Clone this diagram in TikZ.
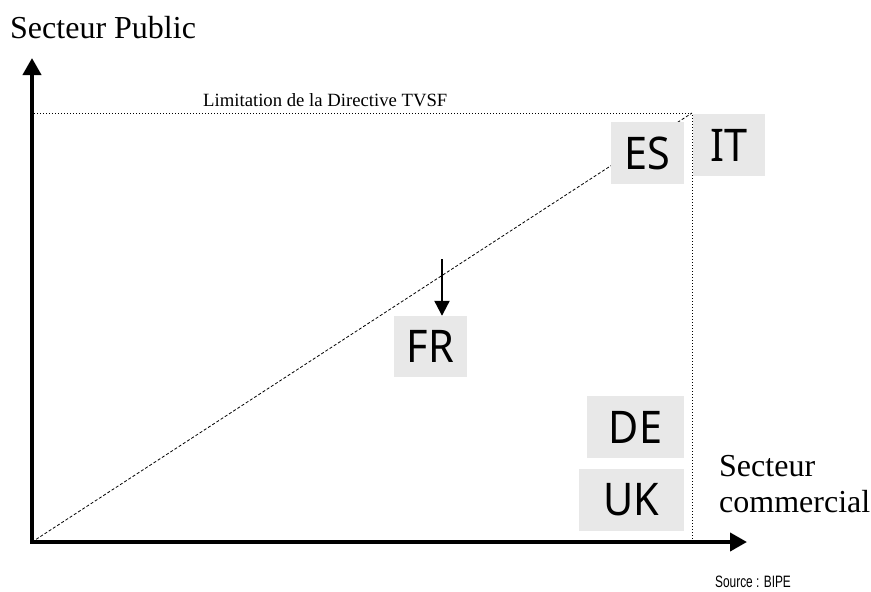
\documentclass[tikz,border=0pt]{standalone}
\usepackage{fontspec}
\setmainfont{Liberation Serif}
\newfontfamily\codefont[FakeStretch=0.92]{Noto Sans}
\newfontfamily\srcfont[FakeStretch=0.72]{Liberation Sans}
\usetikzlibrary{arrows.meta}
\definecolor{boxgray}{HTML}{E8E8E8}
\begin{document}
\begin{tikzpicture}[x=1pt,y=-1pt,
  axisline/.style={line width=4pt, line join=miter, {Triangle[length=17pt,width=18pt]}-{Triangle[length=17pt,width=18pt]}},
  limitline/.style={line width=0.9pt, dash pattern=on 1pt off 2pt},
  diagline/.style={line width=0.8pt, dash pattern=on 3pt off 2pt},
  countrybox/.style={fill=boxgray, inner sep=0pt, font=\codefont\fontsize{45}{48}\selectfont},
  bigtext/.style={inner sep=0pt, anchor=base west, font=\fontsize{32}{36}\selectfont},
  smalltext/.style={inner sep=0pt, anchor=base west, font=\fontsize{18.7}{22}\selectfont},
  srctext/.style={inner sep=0pt, anchor=base west, font=\srcfont\fontsize{16.5}{19}\selectfont},
  movearrow/.style={line width=2.2pt, -{Triangle[length=15pt,width=15pt]}}
]
\useasboundingbox (0,0) rectangle (871,592);
% coordinates
\coordinate (O) at (32,542);
\coordinate (ytip) at (32,58);
\coordinate (xtip) at (747,542);
\coordinate (C) at (692,113);
\coordinate (TL) at (34,113);
\coordinate (CB) at (692,540);
\coordinate (frtop) at (442,259);
% diagonal
\draw[diagline] (O) -- (C);
% limitation
\draw[limitline] (TL) -- (C) -- (CB);
% axes
\draw[axisline] (ytip) -- (O) -- (xtip);
% boxes
\node[countrybox, minimum width=73pt, minimum height=62pt] (ES) at (647.5,153) {ES};
\node[countrybox, minimum width=72pt, minimum height=62pt] (IT) at (729,145) {IT};
\node[countrybox, minimum width=73pt, minimum height=61pt] (FR) at (430.5,346.5) {FR};
\node[countrybox, minimum width=97pt, minimum height=62pt] (DE) at (635.5,427) {DE};
\node[countrybox, minimum width=105pt, minimum height=62pt] (UK) at (631.5,500) {UK};
% arrow to FR
\draw[movearrow] (frtop) -- (frtop |- FR.north);
% labels
\node[bigtext] (ylab) at (10,38) {Secteur Public};
\node[smalltext] (limlab) at (203,106) {Limitation de la Directive TVSF};
\node[bigtext] (xlab1) at (719,476) {Secteur};
\node[bigtext] (xlab2) at (719,512) {commercial};
\node[srctext] (src) at (715,587) {Source : BIPE};
\end{tikzpicture}
\end{document}
